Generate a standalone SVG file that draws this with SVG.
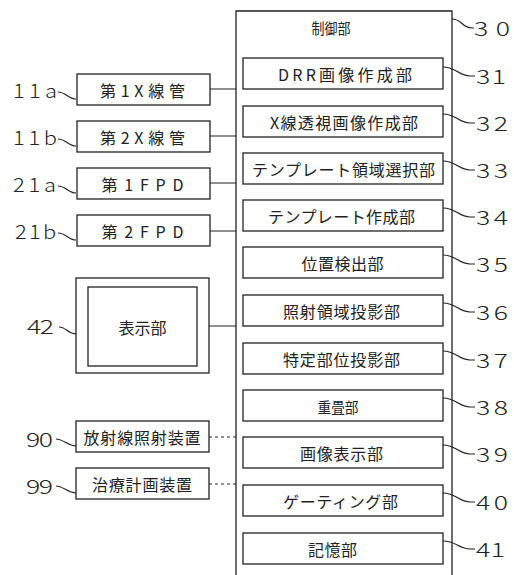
<svg xmlns="http://www.w3.org/2000/svg" width="514" height="575" viewBox="0 0 514 575">
<style>
.b{fill:#fff;stroke:#222;stroke-width:1.3}
.l{fill:none;stroke:#222;stroke-width:1.2}
.d{fill:none;stroke:#222;stroke-width:1.2;stroke-dasharray:3 3}
text{font-family:"Noto Sans CJK JP","Noto Sans",sans-serif;font-size:16px;fill:#222;dominant-baseline:central}
.c{text-anchor:middle}
.n{font-size:19px;font-weight:300}
</style>
<rect width="514" height="575" fill="#fff"/>
<g id="n30">
<path class="b" d="M236 580 V11 H452 V580"/>
<text class="c" x="331" y="27" textLength="39" lengthAdjust="spacingAndGlyphs" style="font-size:15px">制御部</text>
<path class="l" d="M452 19 C462 19,462 28,472 28 H474"/>
<text class="n" transform="translate(474,28) scale(1.4,1)" textLength="25.7">30</text>
</g>
<g id="n31">
<rect class="b" x="243" y="58" width="200" height="31"/>
<text class="c" x="345" y="74" textLength="134">DRR画像作成部</text>
<path class="l" d="M443 67 C456 67,459 76,470 76 H475"/>
<text class="n" transform="translate(476,76) scale(1.4,1)" textLength="21.4">31</text>
</g>
<g id="n32">
<rect class="b" x="243" y="106" width="200" height="31"/>
<text class="c" x="344" y="122" textLength="148">X線透視画像作成部</text>
<path class="l" d="M443 114 C456 114,459 123,470 123 H475"/>
<text class="n" transform="translate(476,123) scale(1.4,1)" textLength="22.9">32</text>
</g>
<g id="n33">
<rect class="b" x="243" y="153" width="200" height="31"/>
<text class="c" x="343.5" y="169" textLength="183">テンプレート領域選択部</text>
<path class="l" d="M443 161 C456 161,459 170,470 170 H475"/>
<text class="n" transform="translate(476,170) scale(1.4,1)" textLength="22.9">33</text>
</g>
<g id="n34">
<rect class="b" x="243" y="200" width="200" height="31"/>
<text class="c" x="341.5" y="216" textLength="147">テンプレート作成部</text>
<path class="l" d="M443 208 C456 208,459 217,470 217 H475"/>
<text class="n" transform="translate(476,217) scale(1.4,1)" textLength="22.9">34</text>
</g>
<g id="n35">
<rect class="b" x="243" y="247" width="200" height="31"/>
<text class="c" x="342.5" y="263" textLength="82">位置検出部</text>
<path class="l" d="M443 255 C456 255,459 264,470 264 H475"/>
<text class="n" transform="translate(476,264) scale(1.4,1)" textLength="22.9">35</text>
</g>
<g id="n36">
<rect class="b" x="243" y="295" width="200" height="31"/>
<text class="c" x="341.5" y="311" textLength="117">照射領域投影部</text>
<path class="l" d="M443 303 C456 303,459 312,470 312 H475"/>
<text class="n" transform="translate(476,312) scale(1.4,1)" textLength="22.9">36</text>
</g>
<g id="n37">
<rect class="b" x="243" y="343" width="200" height="31"/>
<text class="c" x="341.5" y="359" textLength="117">特定部位投影部</text>
<path class="l" d="M443 351 C456 351,459 360,470 360 H475"/>
<text class="n" transform="translate(476,360) scale(1.4,1)" textLength="22.9">37</text>
</g>
<g id="n38">
<rect class="b" x="243" y="390" width="200" height="31"/>
<text class="c" x="338" y="406" textLength="41" lengthAdjust="spacingAndGlyphs" style="font-size:15px">重畳部</text>
<path class="l" d="M443 398 C456 398,459 407,470 407 H475"/>
<text class="n" transform="translate(476,407) scale(1.4,1)" textLength="22.9">38</text>
</g>
<g id="n39">
<rect class="b" x="243" y="437" width="200" height="31"/>
<text class="c" x="341.5" y="453" textLength="83">画像表示部</text>
<path class="l" d="M443 445 C456 445,459 454,470 454 H475"/>
<text class="n" transform="translate(476,454) scale(1.4,1)" textLength="22.9">39</text>
</g>
<g id="n40">
<rect class="b" x="243" y="485" width="200" height="31"/>
<text class="c" x="340.5" y="501" textLength="115">ゲーティング部</text>
<path class="l" d="M443 493 C456 493,459 502,470 502 H475"/>
<text class="n" transform="translate(476,502) scale(1.4,1)" textLength="22.9">40</text>
</g>
<g id="n41">
<rect class="b" x="243" y="533" width="200" height="31"/>
<text class="c" x="332.5" y="549" textLength="49">記憶部</text>
<path class="l" d="M443 541 C456 541,459 549,470 549 H475"/>
<text class="n" transform="translate(476,549) scale(1.4,1)" textLength="20.7">41</text>
</g>
<g id="n11a">
<rect class="b" x="77" y="74" width="133" height="31"/>
<text class="c" x="142.5" y="90" textLength="85">第1X線管</text>
<text class="n" transform="translate(13,90) scale(1.15,1)" textLength="38.3">11a</text>
<path class="l" d="M58 92 C66 92,68 99,76 99"/>
</g>
<g id="n11b">
<rect class="b" x="77" y="121" width="133" height="31"/>
<text class="c" x="142.5" y="137" textLength="85">第2X線管</text>
<text class="n" transform="translate(13,137) scale(1.15,1)" textLength="38.3">11b</text>
<path class="l" d="M58 139 C66 139,68 146,76 146"/>
</g>
<g id="n21a">
<rect class="b" x="77" y="168" width="133" height="31"/>
<text class="c" x="142.5" y="184" textLength="82">第1FPD</text>
<text class="n" transform="translate(13,184) scale(1.15,1)" textLength="37.4">21a</text>
<path class="l" d="M58 186 C66 186,68 193,76 193"/>
</g>
<g id="n21b">
<rect class="b" x="77" y="215" width="133" height="31"/>
<text class="c" x="142.5" y="231" textLength="82">第2FPD</text>
<text class="n" transform="translate(15,231) scale(1.15,1)" textLength="35.7">21b</text>
<path class="l" d="M58 233 C66 233,68 240,76 240"/>
</g>
<g id="n42">
<rect class="b" x="76" y="278" width="133" height="95"/>
<rect class="b" x="88" y="287" width="109" height="79"/>
<text class="c" x="142.5" y="327" textLength="48">表示部</text>
<text class="n" transform="translate(27,326) scale(1.4,1)" textLength="19.3">42</text>
<path class="l" d="M59 327 C66 327,68 334,76 334"/>
</g>
<g id="n90">
<rect class="b" x="76" y="421" width="133" height="31"/>
<text class="c" x="142" y="437" textLength="117">放射線照射装置</text>
<text class="n" transform="translate(26,439) scale(1.4,1)" textLength="19.3">90</text>
<path class="l" d="M56 439 C63 439,68 446,76 446"/>
</g>
<g id="n99">
<rect class="b" x="76" y="468" width="133" height="31"/>
<text class="c" x="142" y="484" textLength="100">治療計画装置</text>
<text class="n" transform="translate(26,486) scale(1.4,1)" textLength="19.3">99</text>
<path class="l" d="M56 486 C63 486,68 493,76 493"/>
</g>
<g id="connectors">
<path class="l" d="M210 89 H236 M210 136 H236 M210 183 H236 M210 231 H236 M209 326 H236"/>
<path class="d" d="M209 437 H236 M209 484 H236"/>
</g>
</svg>
